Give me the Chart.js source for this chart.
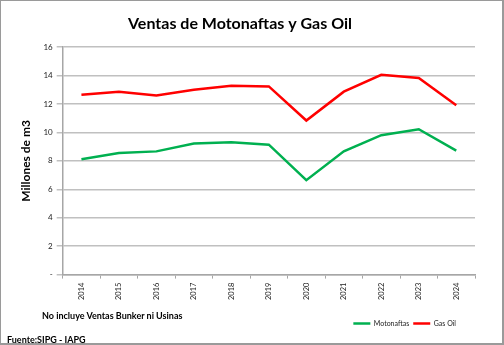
<!DOCTYPE html>
<html lang="es">
<head>
<meta charset="UTF-8">
<title>Ventas de Motonaftas y Gas Oil</title>
<script src="https://cdn.jsdelivr.net/npm/chart.js"></script>
<style>
  html, body { margin: 0; padding: 0; background: #fff; }
  #wrap { position: relative; width: 504px; height: 345px; box-sizing: border-box; border: 1px solid #9a9a9a; border-width: 1px 2px 2px 1px; font-family: Lato, Calibri, sans-serif; }
  #myChart { position: absolute; left: 0; top: 0; }
  .note { position: absolute; font-weight: bold; font-size: 9px; color: #000; white-space: nowrap; }
</style>
</head>
<body>
<div id="wrap">
  <canvas id="myChart" width="504" height="345"></canvas>
  <div class="note" style="left:41px; top:309px;">No incluye Ventas Bunker ni Usinas</div>
  <div class="note" style="left:6px; top:333px;">Fuente:SIPG - IAPG</div>
</div>

<script>
// datos (millones de m3)
const years = ['2014','2015','2016','2017','2018','2019','2020','2021','2022','2023','2024'];
const motonaftas = [8.11, 8.55, 8.67, 9.23, 9.32, 9.14, 6.64, 8.67, 9.81, 10.23, 8.72];
const gasOil = [12.66, 12.87, 12.61, 13.0, 13.29, 13.24, 10.84, 12.87, 14.06, 13.83, 11.91];

const fontFam = 'Lato, Calibri, sans-serif';

const data = {
    labels: years,
    datasets: [
        { label: 'Motonaftas', data: motonaftas, borderColor: '#00b050', backgroundColor: '#00b050', borderWidth: 2.5, pointRadius: 0, tension: 0 },
        { label: 'Gas Oil', data: gasOil, borderColor: '#ff0000', backgroundColor: '#ff0000', borderWidth: 2.5, pointRadius: 0, tension: 0 }
    ]
};

// mover la leyenda y el título como en el original
const boxShift = {
    id: 'boxShift',
    afterLayout(chart) {
        const lg = chart.legend;
        lg.right -= 15;
        lg.left -= 15;
        lg.top += 12;
        lg.bottom += 12;
        const t = chart.titleBlock;
        if (t) { t.left -= 7; t.right -= 7; }
    }
};

const options = {
    responsive: false,
    animation: false,
    layout: { padding: { left: 18, right: 30, top: 9, bottom: 21 } },
    plugins: {
        title: {
            display: true,
            text: 'Ventas de Motonaftas y Gas Oil',
            color: '#000',
            font: { family: fontFam, size: 16, weight: 'bold' },
            padding: { top: 4, bottom: 14 }
        },
        legend: {
            position: 'bottom',
            align: 'end',
            labels: {
                usePointStyle: true,
                pointStyle: 'line',
                pointStyleWidth: 17,
                color: '#222',
                font: { family: fontFam, size: 7 },
                padding: 4
            }
        },
        tooltip: { enabled: false }
    },
    scales: {
        x: {
            offset: true,
            grid: { display: true, drawOnChartArea: false, offset: true, color: '#a6a6a6', tickLength: 4 },
            border: { color: '#a6a6a6', width: 1.5 },
            ticks: { minRotation: 90, maxRotation: 90, color: '#222', font: { family: fontFam, size: 7.5 }, padding: 4 }
        },
        y: {
            min: 0,
            max: 16,
            grid: { color: '#c0c0c0', lineWidth: 1.5, tickLength: 6 },
            border: { color: '#a6a6a6', width: 1.5 },
            ticks: {
                stepSize: 2,
                color: '#222',
                font: { family: fontFam, size: 8 },
                padding: 4,
                callback: v => v === 0 ? '-' : v
            },
            title: {
                display: true,
                text: 'Millones de m3',
                color: '#000',
                font: { family: fontFam, size: 12, weight: 'bold' },
                padding: { top: 0, bottom: 6 }
            }
        }
    }
};

new Chart(document.getElementById('myChart').getContext('2d'), { type: 'line', data: data, options: options, plugins: [boxShift] });
</script>
</body>
</html>
